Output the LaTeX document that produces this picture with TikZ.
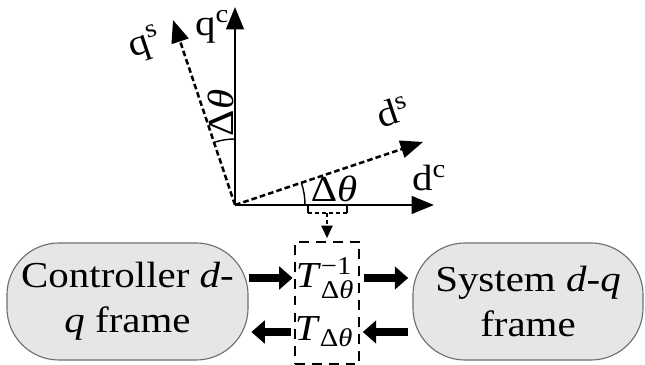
\documentclass[tikz,border=0pt]{standalone}
\usepackage{amsmath}
\usepackage{fontspec}
\setmainfont[FakeStretch=1.12]{Liberation Serif}
\usetikzlibrary{arrows.meta, calc}
\definecolor{blockgray}{HTML}{E6E6E6}
\definecolor{edgegray}{HTML}{6E6E6E}
\newcommand{\dth}{Δ\textit{θ}}

\begin{document}
\begin{tikzpicture}[x=0.025cm, y=0.025cm,
    axis/.style={line width=2.1pt, -{Triangle[length=16pt,width=12.5pt]}},
    rotaxis/.style={line width=1.8pt, dash pattern=on 4pt off 2.2pt, -{Triangle[length=16pt,width=12.5pt]}},
    axlab/.style={font=\fontsize{26}{30}\selectfont, inner sep=0pt},
    anglab/.style={font=\fontsize{26}{30}\selectfont, inner sep=0pt},
    frameblock/.style={draw=edgegray, fill=blockgray, line width=0.8pt, rounded corners=1.3cm,
        minimum height=2.925cm, align=center, font=\fontsize{26}{32}\selectfont},
    tblock/.style={draw, line width=1.4pt, dash pattern=on 7pt off 5pt, minimum width=1.6cm, minimum height=3.05cm},
    bigarrow/.style={line width=5.9pt, -{Triangle[length=9.5pt,width=16pt]}}]
  \useasboundingbox (0,0) rectangle (645,365);

  % axes
  \coordinate (o) at (235,160);
  \coordinate (qc) at (235,358);
  \coordinate (dc) at (434,160);
  \coordinate (qs) at (173,345);
  \coordinate (ds) at (423,223);
  \draw[axis] (o) -- (qc);
  \draw[axis] (o) -- (dc);
  \draw[rotaxis] (o) -- (qs);
  \draw[rotaxis] (o) -- (ds);
  \node[axlab] (qclab) at (212,338) {q\textsuperscript{c}};
  \node[axlab, rotate=18.5] (qslab) at (145,321) {q\textsuperscript{s}};
  \node[axlab, rotate=18.5] (dslab) at (393,253) {d\textsuperscript{s}};
  \node[axlab] (dclab) at (429,187) {d\textsuperscript{c}};

  % angles
  \draw[line width=1pt] (o) ++(70,0) arc[start angle=0, end angle=18.5, radius=70];
  \draw[line width=1pt] (o) ++(0,66) arc[start angle=90, end angle=108.5, radius=66];
  \node[anglab] (angd) at (334,176) {\dth};
  \node[anglab, rotate=90] (angq) at (221,252) {\dth};

  % bracket on d axis
  \draw[line width=1.2pt] (308,160) -- (308,152);
  \draw[line width=1.2pt] (347,160) -- (347,152);
  \draw[line width=1.2pt, dash pattern=on 3pt off 2pt] (308,152) -- (347,152);
  \coordinate (brk) at (327,152);

  % blocks
  \node[frameblock, minimum width=6.025cm] (ctrl) at (127.5,63.5) {Controller \textit{d}-\\\textit{q} frame};
  \node[frameblock, minimum width=5.75cm] (sys) at (528,63.5) {System \textit{d}-\textit{q}\\frame};
  \node[tblock] (tbox) at (327,62) {};
  \node[anglab] (tinv) at (325,87) {\textit{T}$^{\text{−1}}_{\text{\dth}}$};
  \node[anglab] (tfwd) at (324,33) {\textit{T}$_{\text{\dth}}$};

  \draw[line width=1.2pt, dash pattern=on 3pt off 2pt, -{Triangle[length=9pt,width=8pt]}] (brk) -- ([yshift=2pt]tbox.north);
  \draw[bigarrow, shorten >=1pt] (ctrl.east |- tinv) -- (tbox.west |- tinv);
  \draw[bigarrow, shorten <=3pt, shorten >=3pt] (tbox.east |- tinv) -- (sys.west |- tinv);
  \draw[bigarrow, shorten <=3pt, shorten >=2pt] (sys.west |- tfwd) -- (tbox.east |- tfwd);
  \draw[bigarrow, shorten <=2pt, shorten >=2pt] (tbox.west |- tfwd) -- (ctrl.east |- tfwd);
\end{tikzpicture}
\end{document}
